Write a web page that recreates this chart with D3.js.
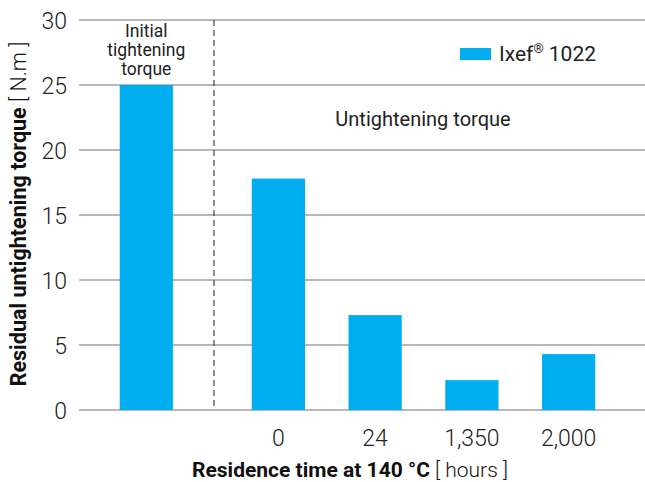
<!DOCTYPE html>
<html><head><meta charset="utf-8">
<script src="https://cdn.jsdelivr.net/npm/d3@7"></script>
<style>body{margin:0;background:#fff}</style>
</head><body>
<svg id="c" width="645" height="482"></svg>
<script>
const categories = ["0", "24", "1,350", "2,000"];
const values = [17.8, 7.3, 2.3, 4.3];
const initialValue = 25;
const yTicks = [0, 5, 10, 15, 20, 25, 30];
const seriesName = "Ixef® 1022";

const svg = d3.select("#c");
const color = "#00aeef";
const font = "Roboto, 'Liberation Sans', sans-serif";
const y = d3.scaleLinear().domain([0, 30]).range([410, 20]);
const x = d3.scaleBand().domain(categories).range([230, 617]).paddingInner(0.45).paddingOuter(0.225);
const step = x.step();
const initX = x(categories[0]) - 1.365 * step;
const bw = x.bandwidth();

// grid
const g = svg.append("g");
g.selectAll("line.grid").data(yTicks).join("line")
  .attr("x1", 79).attr("x2", 645).attr("y1", d => y(d)).attr("y2", d => y(d))
  .attr("stroke", "#a0a0a0").attr("stroke-width", 1.3);
g.selectAll("text.yt").data(yTicks).join("text")
  .attr("x", 67).attr("y", d => y(d) + 8.5).attr("text-anchor", "end")
  .attr("font-family", font).attr("font-weight", 300).attr("font-size", 23).attr("fill", "#222")
  .text(d => d);

// dashed line
svg.append("line").attr("x1", 214).attr("x2", 214).attr("y1", y(30)).attr("y2", y(0))
  .attr("stroke", "#444").attr("stroke-width", 1.2).attr("stroke-dasharray", "6,4");

// bars
svg.append("rect").attr("x", initX).attr("width", bw).attr("y", y(initialValue))
  .attr("height", y(0) - y(initialValue)).attr("fill", color);
svg.selectAll("rect.bar").data(values).join("rect").attr("class", "bar")
  .attr("x", (d, i) => x(categories[i])).attr("width", bw)
  .attr("y", d => y(d)).attr("height", d => y(0) - y(d)).attr("fill", color);

// x labels
svg.selectAll("text.xt").data(categories).join("text")
  .attr("x", d => x(d) + bw / 2).attr("y", 446).attr("text-anchor", "middle")
  .attr("font-family", font).attr("font-weight", 300).attr("font-size", 23).attr("fill", "#222")
  .text(d => d);

// initial label
["Initial", "tightening", "torque"].forEach((t, i) => {
  svg.append("text").attr("x", initX + bw / 2).attr("y", 37 + i * 19).attr("text-anchor", "middle")
    .attr("font-family", font).attr("font-weight", 400).attr("font-size", 17.5).attr("fill", "#222").text(t);
});
svg.append("text").attr("x", 423).attr("y", 126).attr("text-anchor", "middle")
  .attr("font-family", font).attr("font-weight", 400).attr("font-size", 20).attr("fill", "#222")
  .text("Untightening torque");

// legend
svg.append("rect").attr("x", 460).attr("y", 48).attr("width", 31).attr("height", 12).attr("fill", color);
const lt = svg.append("text").attr("x", 499).attr("y", 61)
  .attr("font-family", font).attr("font-weight", 400).attr("font-size", 21).attr("fill", "#222");
lt.append("tspan").text("Ixef");
lt.append("tspan").attr("font-size", 13).attr("dy", -8).text("®");
lt.append("tspan").attr("dy", 8).text(" 1022");

// x title
const xt = svg.append("text").attr("x", 350).attr("y", 477).attr("text-anchor", "middle")
  .attr("font-family", font).attr("font-size", 21).attr("fill", "#111");
xt.append("tspan").attr("font-weight", 700).text("Residence time at 140 °C ");
xt.append("tspan").attr("font-weight", 300).text("[ hours ]");

// y title
const yt = svg.append("text").attr("transform", "translate(26,214) rotate(-90)").attr("text-anchor", "middle")
  .attr("font-family", font).attr("font-size", 21.5).attr("fill", "#111");
yt.append("tspan").attr("font-weight", 700).text("Residual untightening torque ");
yt.append("tspan").attr("font-weight", 300).text("[ N.m ]");
</script>
</body></html>
